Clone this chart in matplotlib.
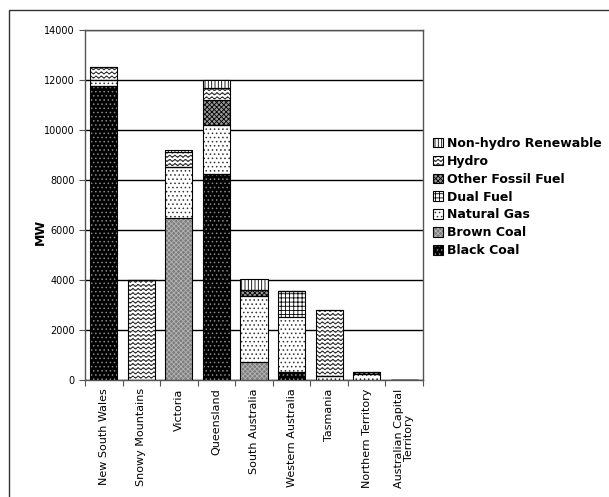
import warnings
import numpy as np
import matplotlib
matplotlib.use("Agg")
import matplotlib.pyplot as plt
from matplotlib import hatch as mhatch
from matplotlib.path import Path
from matplotlib.patches import Patch, Rectangle

warnings.filterwarnings("ignore")

regions = ["New South Wales", "Snowy Mountains", "Victoria", "Queensland",
           "South Australia", "Western Australia", "Tasmania",
           "Northern Territory", "Australian Capital\nTerritory"]

black_coal = [11730, 0, 0, 8230, 0, 300, 0, 0, 0]
brown_coal = [0, 0, 6470, 0, 720, 0, 0, 0, 0]
natural_gas = [270, 0, 2040, 1970, 2630, 2200, 150, 230, 0]
dual_fuel = [0, 0, 0, 0, 0, 1070, 0, 0, 0]
other_fossil = [0, 0, 0, 1000, 250, 0, 0, 90, 0]
hydro = [510, 4000, 590, 470, 0, 0, 2650, 0, 0]
non_hydro = [0, 0, 100, 330, 430, 0, 0, 0, 0]

fuel_names = ["Black Coal", "Brown Coal", "Natural Gas", "Dual Fuel",
              "Other Fossil Fuel", "Hydro", "Non-hydro Renewable"]
fuel_values = [black_coal, brown_coal, natural_gas, dual_fuel,
               other_fossil, hydro, non_hydro]


# wavy hatch for hydro ("w" in the hatch string)
class Waves(mhatch.HatchPatternBase):
    def __init__(self, hatch, density):
        self.num_lines = int(hatch.count("w") * density)
        self.num_periods = int(self.num_lines * 0.8)
        self.num_pts = self.num_periods * 6 + 1
        self.num_vertices = self.num_lines * self.num_pts

    def set_vertices_and_codes(self, vertices, codes):
        xs = np.linspace(0, 1, self.num_pts)
        amp = 0.28 / self.num_lines
        for i in range(self.num_lines):
            y0 = (i + 0.5) / self.num_lines
            ys = y0 + amp * np.sin(2 * np.pi * self.num_periods * xs)
            a = i * self.num_pts
            b = a + self.num_pts
            vertices[a:b, 0] = xs
            vertices[a:b, 1] = ys
            codes[a:b] = Path.LINETO
            codes[a] = Path.MOVETO


mhatch._hatch_types.append(Waves)

# face colour, hatch, hatch colour
styles = [
    ("black", "....", "#8a8a8a"),
    ("#7c7c7c", "xxxxxxx", "#b4b4b4"),
    ("white", "....", "#333333"),
    ("white", "++++", "black"),
    ("#9a9a9a", "xxxxxxx", "black"),
    ("white", "wwww", "#222222"),
    ("white", "|||||", "black"),
]

plt.rcParams["hatch.linewidth"] = 0.6
plt.rcParams["font.family"] = "DejaVu Sans"

fig = plt.figure(figsize=(6.09, 4.97), dpi=100)
ax = fig.add_axes([85 / 609, 1 - 380 / 497, (423 - 85) / 609, (380 - 29.7) / 497])

x = np.arange(len(regions))
width = 0.72
bottom = np.zeros(len(regions))
handles = []
for name, vals, (fc, hat, hc) in zip(fuel_names, fuel_values, styles):
    vals = np.array(vals, dtype=float)
    ax.bar(x, vals, width, bottom=bottom, color=fc, hatch=hat,
           edgecolor=hc, linewidth=0, zorder=3)
    ax.bar(x, vals, width, bottom=bottom, fill=False,
           edgecolor="black", linewidth=0.8, zorder=4)
    bottom += vals
    handles.append((Patch(facecolor=fc, hatch=hat, edgecolor=hc, linewidth=0),
                    Patch(fill=False, edgecolor="black", linewidth=0.8)))

ax.set_xlim(-0.5, len(regions) - 0.5)
ax.set_ylim(0, 14000)
ax.set_yticks(np.arange(0, 14001, 2000))
ax.yaxis.grid(True, color="black", linewidth=1)
ax.set_axisbelow(True)
ax.tick_params(axis="y", labelsize=7, length=4, width=0.8, color="#555555")

ax.set_xticks(np.arange(len(regions) + 1) - 0.5)
ax.set_xticklabels([])
ax.tick_params(axis="x", which="major", length=4, width=0.8, color="#555555")
ax.set_xticks(x, minor=True)
ax.set_xticklabels(regions, minor=True, rotation=90, fontsize=8, va="top",
                   linespacing=1.0)
ax.tick_params(axis="x", which="minor", length=0, pad=6)

for side in ["left", "top", "right", "bottom"]:
    ax.spines[side].set_color("#555555")
    ax.spines[side].set_linewidth(1)

fig.text(40 / 609, 1 - 232 / 497, "MW", rotation=90, fontsize=9,
         fontweight="bold", ha="center", va="center")

leg = fig.legend(handles[::-1], fuel_names[::-1], loc="upper left",
                 bbox_to_anchor=(433 / 609, 1 - 137 / 497), frameon=False,
                 prop={"size": 9, "weight": "bold"}, handlelength=0.8,
                 handleheight=0.8, handletextpad=0.3, labelspacing=0.39,
                 borderaxespad=0, borderpad=0)

# outer chart border
fig.patches.append(Rectangle((9 / 609, -0.01), 1.1, 1 - 10 / 497 + 0.01,
                             transform=fig.transFigure, fill=False,
                             edgecolor="#333333", linewidth=1))

fig.savefig("out.png", dpi=100)
